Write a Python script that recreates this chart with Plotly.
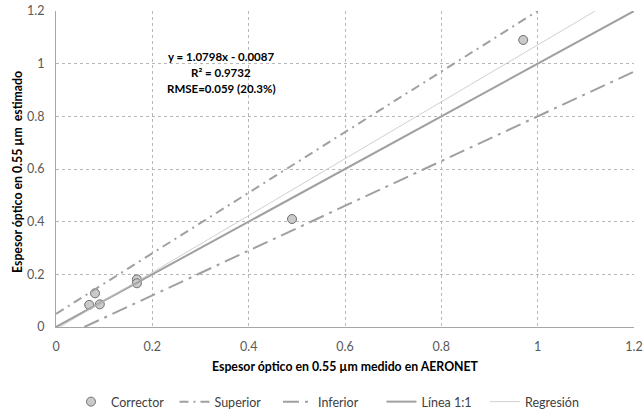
import plotly.graph_objects as go

# Data
aeronet = [0.069, 0.081, 0.091, 0.168, 0.168, 0.490, 0.970]
estimado = [0.084, 0.128, 0.086, 0.181, 0.166, 0.410, 1.090]

sup_x = [0.0, 1.0]
sup_y = [0.05 + 1.15 * v for v in sup_x]
inf_x = [0.0588, 1.2]
inf_y = [0.85 * v - 0.05 for v in inf_x]
one_x = [0.0, 1.2]
one_y = [0.0, 1.2]
reg_x = [0.008, 1.119]
reg_y = [1.0798 * v - 0.0087 for v in reg_x]

tick_vals = [0, 0.2, 0.4, 0.6, 0.8, 1, 1.2]
tick_text = ["0", "0.2", "0.4", "0.6", "0.8", "1", "1.2"]

eq_lines = ["y = 1.0798x - 0.0087", "R² = 0.9732", "RMSE=0.059 (20.3%)"]
eq_y = [1.029, 0.967, 0.904]

FONT = "Lato, 'Open Sans', sans-serif"
LINE = "#a0a0a0"

W, H = 644, 413
L, R, T, B = 56, 10, 11, 86
pw, ph = W - L - R, H - T - B

fig = go.Figure()
fig.add_trace(go.Scatter(x=aeronet, y=estimado, mode="markers", name="Corrector",
                         marker=dict(size=9, color="#cacaca", line=dict(color="#707070", width=1))))
fig.add_trace(go.Scatter(x=sup_x, y=sup_y, mode="lines", name="Superior",
                         line=dict(color=LINE, width=2, dash="9px,5px,2px,5px")))
fig.add_trace(go.Scatter(x=inf_x, y=inf_y, mode="lines", name="Inferior",
                         line=dict(color=LINE, width=2, dash="16px,6px,3px,6px")))
fig.add_trace(go.Scatter(x=one_x, y=one_y, mode="lines", name="Línea 1:1",
                         line=dict(color=LINE, width=2)))
fig.add_trace(go.Scatter(x=reg_x, y=reg_y, mode="lines", name="Regresión",
                         line=dict(color="#c4c4c4", width=0.8)))

# regression equation block (three centred lines)
for t, yy in zip(eq_lines, eq_y):
    fig.add_annotation(x=0.343, y=yy, xref="x", yref="y", showarrow=False,
                       text="<b>" + t + "</b>", xanchor="center", yanchor="middle",
                       font=dict(family=FONT, size=11.5, color="#000000"))

# axis titles
fig.add_annotation(x=(345 - L) / pw, y=(H - 366 - B) / ph, xref="paper", yref="paper",
                   showarrow=False, xanchor="center", yanchor="middle",
                   text="<b>Espesor óptico en 0.55 µm medido en AERONET</b>",
                   font=dict(family=FONT, size=12.3, color="#000000"))
fig.add_annotation(x=(17 - L) / pw, y=(H - 172 - B) / ph, xref="paper", yref="paper",
                   showarrow=False, textangle=-90, xanchor="center", yanchor="middle",
                   text="<b>Espesor óptico en 0.55 µm  estimado</b>",
                   font=dict(family=FONT, size=12.3, color="#000000"))

axis_common = dict(
    range=[0, 1.2], tickvals=tick_vals, ticktext=tick_text,
    showgrid=True, gridcolor="#b8b8b8", griddash="dot", gridwidth=1,
    zeroline=False, showline=True, linecolor="#a6a6a6", linewidth=1,
    ticks="", ticklabelstandoff=8, automargin=False,
    tickfont=dict(family=FONT, size=12.5, color="#595959"),
)
fig.update_xaxes(**axis_common)
fig.update_yaxes(**axis_common)

fig.update_layout(
    width=W, height=H,
    margin=dict(l=L, r=R, t=T, b=B, autoexpand=False),
    paper_bgcolor="white", plot_bgcolor="white",
    showlegend=True,
    legend=dict(orientation="h", xref="container", yref="container",
                x=71 / W, xanchor="left", y=(H - 402) / H, yanchor="middle",
                font=dict(family=FONT, size=12.5, color="#404040"),
                entrywidth=58.5, entrywidthmode="pixels", tracegroupgap=0),
)

fig.write_html("out.html", config={"displayModeBar": False},
               post_script="document.body.style.margin='0';")
